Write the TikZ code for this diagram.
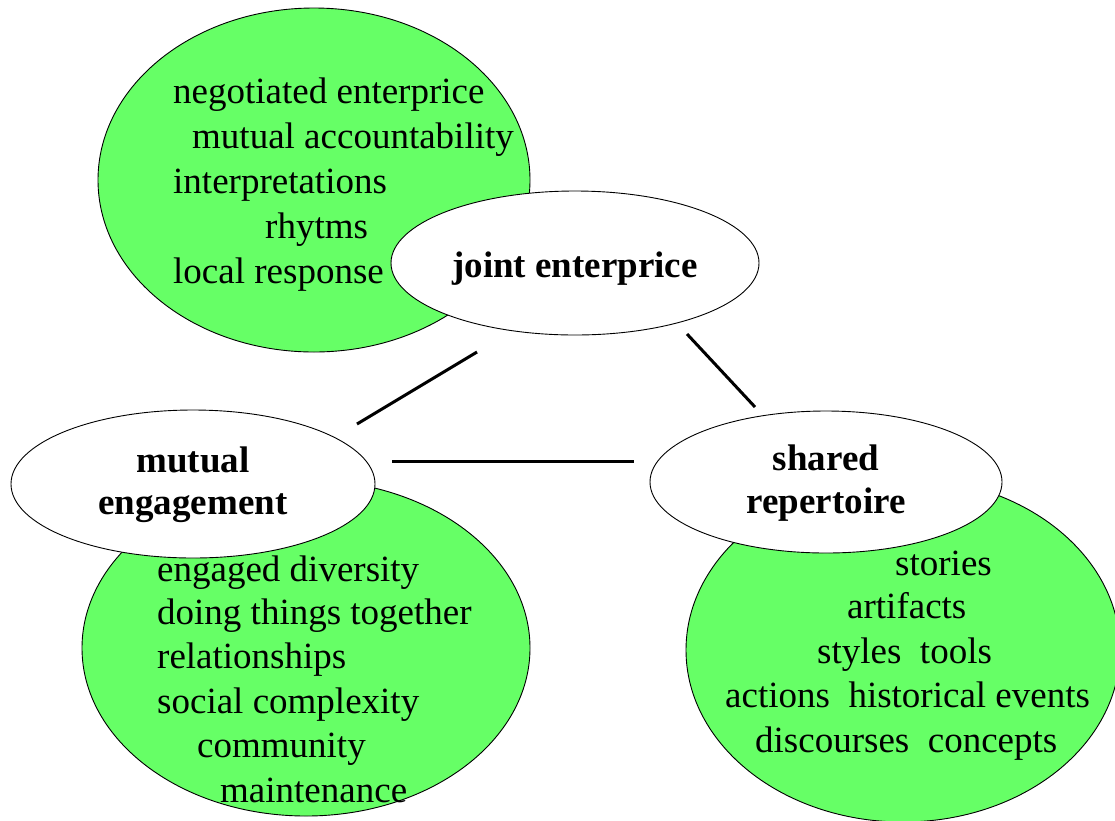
\documentclass[tikz,border=0pt]{standalone}
\usepackage{fontspec}
\setmainfont{Liberation Serif}
\usetikzlibrary{shapes.geometric}
\definecolor{leafgreen}{RGB}{102,255,102}
\begin{document}
\begin{tikzpicture}[x=1pt,y=-1pt,
  greenblob/.style={ellipse, draw=black, line width=0.9pt, fill=leafgreen, inner sep=0pt, outer sep=0pt},
  whiteblob/.style={ellipse, draw=black, line width=0.9pt, fill=white, inner sep=0pt, outer sep=0pt},
  item/.style={anchor=base west, inner sep=0pt, font=\fontsize{37}{45}\selectfont},
  head/.style={anchor=base, inner sep=0pt, font=\fontsize{37}{45}\selectfont\bfseries},
  link/.style={line width=3pt}]
\useasboundingbox (0,0) rectangle (1115,820);
% green ellipses
\node[greenblob, minimum width=432pt, minimum height=344pt] (gje) at (314,180) {};
\node[greenblob, minimum width=448pt, minimum height=336pt] (gme) at (306,648) {};
\node[greenblob, minimum width=434pt, minimum height=344pt] (gsr) at (903,650) {};
% white ellipses
\node[whiteblob, minimum width=368pt, minimum height=144pt] (je) at (575,263) {};
\node[whiteblob, minimum width=364pt, minimum height=148pt] (me) at (193,484) {};
\node[whiteblob, minimum width=352pt, minimum height=142pt] (sr) at (826,482) {};
% headings
\node[head] (jet) at (575,277) {joint enterprice};
\node[head] (met1) at (193,472) {mutual};
\node[head] (met2) at (193,514) {engagement};
\node[head] (srt1) at (826,470) {shared};
\node[head] (srt2) at (826,513) {repertoire};
% joint enterprise items
\node[item] (j1) at (173,103) {negotiated enterprice};
\node[item] (j2) at (192,148) {mutual accountability};
\node[item] (j3) at (173,193) {interpretations};
\node[item] (j4) at (265,238) {rhytms};
\node[item] (j5) at (173,283) {local response};
% mutual engagement items
\node[item] (m1) at (157,581) {engaged diversity};
\node[item] (m2) at (157,624) {doing things together};
\node[item] (m3) at (157,668) {relationships};
\node[item] (m4) at (157,713) {social complexity};
\node[item] (m5) at (197,757) {community};
\node[item] (m6) at (220,802) {maintenance};
% shared repertoire items
\node[item] (s1) at (895,575) {stories};
\node[item] (s2) at (847,618) {artifacts};
\node[item] (s3) at (817,663) {styles\ \ tools};
\node[item] (s4) at (725,707) {actions\ \ historical events};
\node[item] (s5) at (755,752) {discourses\ \ concepts};
% connectors
\coordinate (c1a) at (357,424); \coordinate (c1b) at (477,352);
\coordinate (c2a) at (687,334); \coordinate (c2b) at (755,407);
\coordinate (c3a) at (392,461); \coordinate (c3b) at (634,461);
\draw[link] (c1a) -- (c1b);
\draw[link] (c2a) -- (c2b);
\draw[link] (c3a) -- (c3b);
\end{tikzpicture}
\end{document}
